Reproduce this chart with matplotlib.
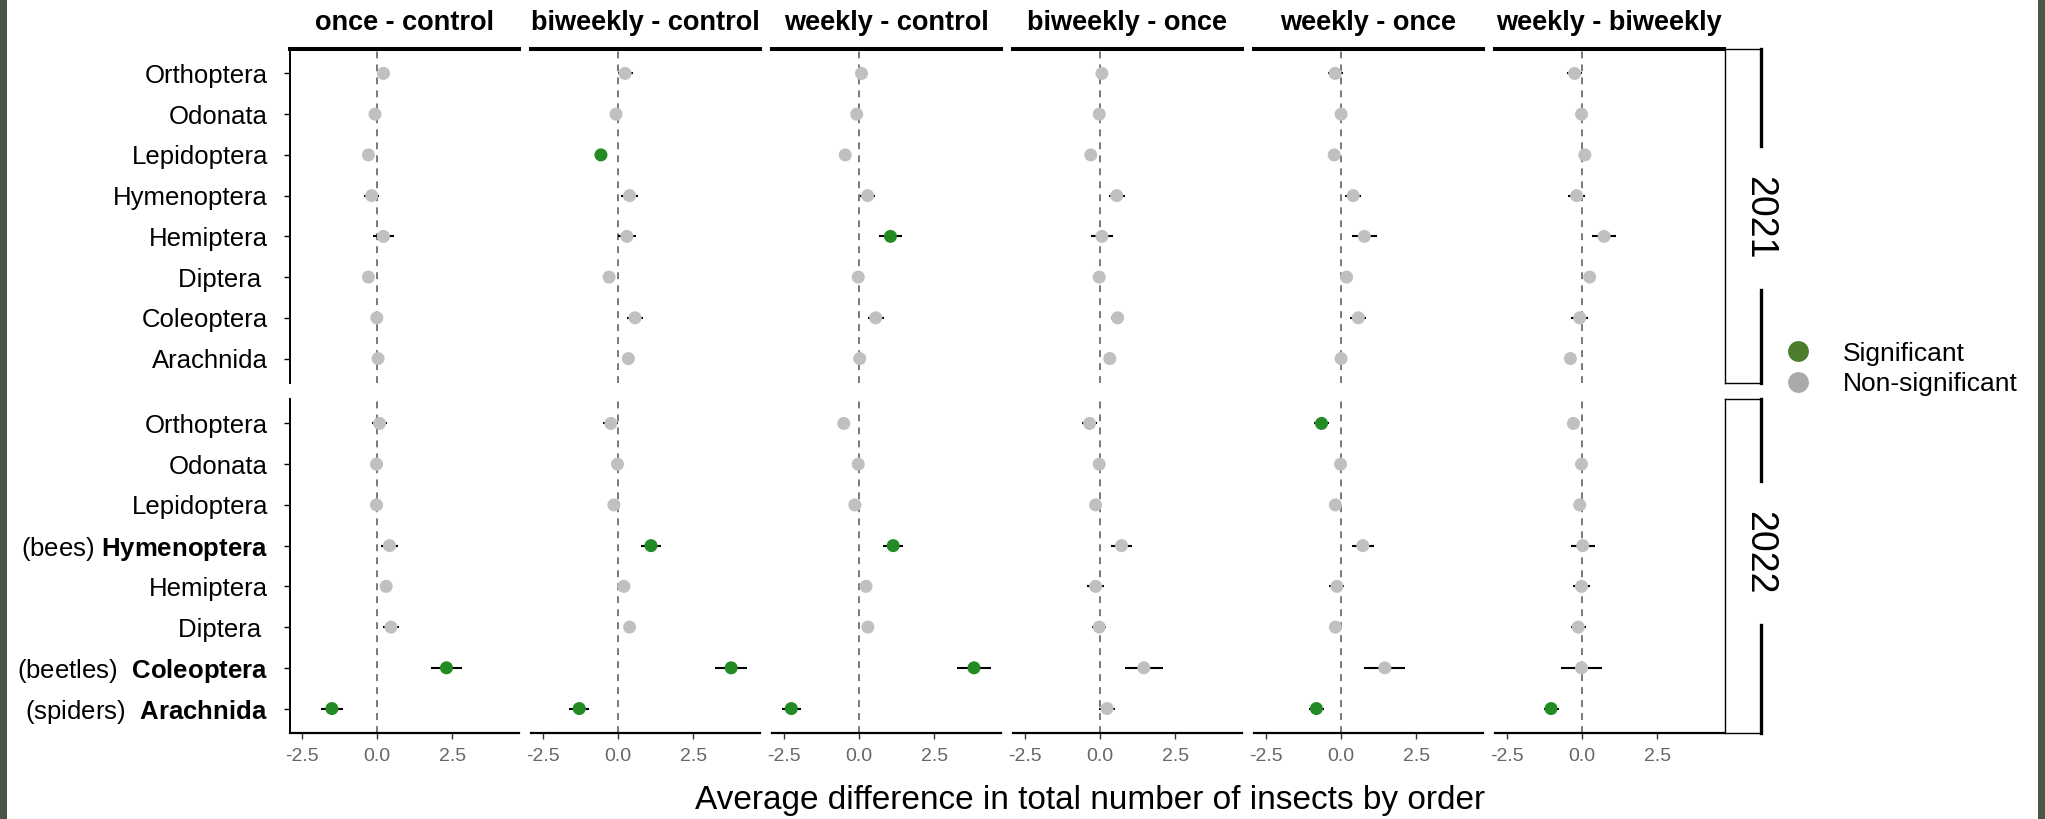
import matplotlib
matplotlib.use("Agg")
import matplotlib.pyplot as plt
from matplotlib.lines import Line2D
from matplotlib.patches import Rectangle

plt.rcParams['font.family'] = ['Liberation Sans', 'DejaVu Sans']
plt.rcParams['mathtext.fontset'] = 'custom'
plt.rcParams['mathtext.rm'] = 'Liberation Sans'
plt.rcParams['mathtext.bf'] = 'Liberation Sans:bold'
plt.rcParams['mathtext.it'] = 'Liberation Sans:italic'

# ---------------------------------------------------------------- data
orders = ["Orthoptera", "Odonata", "Lepidoptera", "Hymenoptera",
          "Hemiptera", "Diptera", "Coleoptera", "Arachnida"]
labels_2021 = ["Orthoptera", "Odonata", "Lepidoptera", "Hymenoptera",
               "Hemiptera", "Diptera ", "Coleoptera", "Arachnida"]
labels_2022 = ["Orthoptera", "Odonata", "Lepidoptera",
               r"(bees) $\mathbf{Hymenoptera}$", "Hemiptera", "Diptera ",
               r"(beetles)  $\mathbf{Coleoptera}$ ",
               r"(spiders)  $\mathbf{Arachnida}$"]
comparisons = ["once - control", "biweekly - control", "weekly - control",
               "biweekly - once", "weekly - once", "weekly - biweekly"]
years = ["2021", "2022"]

# estimated differences, one list per comparison (orders top to bottom)
est_2021 = [
    [0.21, -0.07, -0.29, -0.18, 0.21, -0.29, -0.01, 0.03],
    [0.23, -0.07, -0.57, 0.38, 0.29, -0.30, 0.56, 0.34],
    [0.08, -0.08, -0.46, 0.28, 1.04, -0.03, 0.55, 0.02],
    [0.06, -0.03, -0.31, 0.55, 0.06, -0.03, 0.58, 0.32],
    [-0.20, 0.00, -0.23, 0.40, 0.77, 0.18, 0.57, 0.00],
    [-0.25, -0.02, 0.09, -0.18, 0.73, 0.25, -0.08, -0.39],
]
ci_2021 = [
    [0.15, 0.15, 0.15, 0.25, 0.35, 0.15, 0.15, 0.15],
    [0.25, 0.15, 0.15, 0.27, 0.31, 0.15, 0.26, 0.15],
    [0.15, 0.15, 0.15, 0.24, 0.39, 0.15, 0.26, 0.15],
    [0.20, 0.15, 0.15, 0.26, 0.36, 0.15, 0.22, 0.15],
    [0.25, 0.15, 0.15, 0.26, 0.42, 0.15, 0.27, 0.15],
    [0.24, 0.15, 0.15, 0.28, 0.40, 0.15, 0.29, 0.15],
]
sig_2021 = [
    [0, 0, 0, 0, 0, 0, 0, 0],
    [0, 0, 1, 0, 0, 0, 0, 0],
    [0, 0, 0, 0, 1, 0, 0, 0],
    [0, 0, 0, 0, 0, 0, 0, 0],
    [0, 0, 0, 0, 0, 0, 0, 0],
    [0, 0, 0, 0, 0, 0, 0, 0],
]

est_2022 = [
    [0.08, -0.02, -0.02, 0.41, 0.30, 0.46, 2.30, -1.50],
    [-0.24, -0.02, -0.14, 1.09, 0.19, 0.38, 3.75, -1.29],
    [-0.51, -0.03, -0.14, 1.13, 0.23, 0.29, 3.81, -2.25],
    [-0.35, -0.03, -0.15, 0.71, -0.15, -0.03, 1.45, 0.23],
    [-0.65, -0.02, -0.19, 0.72, -0.14, -0.19, 1.45, -0.82],
    [-0.29, -0.02, -0.08, 0.02, -0.02, -0.13, -0.02, -1.03],
]
ci_2022 = [
    [0.26, 0.15, 0.15, 0.29, 0.15, 0.25, 0.52, 0.36],
    [0.25, 0.15, 0.15, 0.33, 0.15, 0.15, 0.52, 0.34],
    [0.15, 0.15, 0.15, 0.34, 0.15, 0.15, 0.57, 0.31],
    [0.25, 0.15, 0.15, 0.36, 0.27, 0.24, 0.62, 0.28],
    [0.25, 0.15, 0.15, 0.36, 0.25, 0.15, 0.68, 0.26],
    [0.15, 0.15, 0.15, 0.40, 0.27, 0.25, 0.68, 0.25],
]
sig_2022 = [
    [0, 0, 0, 0, 0, 0, 1, 1],
    [0, 0, 0, 1, 0, 0, 1, 1],
    [0, 0, 0, 1, 0, 0, 1, 1],
    [0, 0, 0, 0, 0, 0, 0, 0],
    [1, 0, 0, 0, 0, 0, 0, 1],
    [0, 0, 0, 0, 0, 0, 0, 1],
]

x_ticks = [-2.5, 0.0, 2.5]
x_tick_labels = ["-2.5", "0.0", "2.5"]

# ---------------------------------------------------------------- style
GREEN = "#238b23"
GREY = "#c0c0c0"
LEG_GREEN = "#4b7d2c"
LEG_GREY = "#aaaaaa"
EDGE = "#4b5545"

W, H = 2045, 819
fig = plt.figure(figsize=(W / 100, H / 100), dpi=100)


def fx(px):
    return px / W


def fy(py):
    return 1 - py / H


col_left = [290 + 241 * i for i in range(6)]
panel_w = 228.5
row_top = [49, 399]
row_bot = [383, 733]

all_est = [est_2021, est_2022]
all_ci = [ci_2021, ci_2022]
all_sig = [sig_2021, sig_2022]
all_labels = [labels_2021, labels_2022]

ypos = [len(orders) - i for i in range(len(orders))]

for r in range(2):
    for c in range(6):
        ax = fig.add_axes([fx(col_left[c]), fy(row_bot[r]),
                           panel_w / W, (row_bot[r] - row_top[r]) / H])
        est = all_est[r][c]
        ci = all_ci[r][c]
        sig = all_sig[r][c]
        ax.axvline(0, color="#555555", lw=1.1, ls=(0, (4.5, 4)), zorder=1)
        lo = [e - h for e, h in zip(est, ci)]
        hi = [e + h for e, h in zip(est, ci)]
        ax.hlines(ypos, lo, hi, color="black", lw=1.5, zorder=2)
        cols = [GREEN if s else GREY for s in sig]
        ax.scatter(est, ypos, s=88, c=cols, edgecolors="none", zorder=3)

        ax.set_xlim(-2.89, 4.69)
        ax.set_ylim(0.4, 8.6)
        for sp in ax.spines.values():
            sp.set_visible(False)

        if r == 0:
            ax.spines["top"].set_visible(True)
            ax.spines["top"].set_linewidth(2.9)
            fig.text(fx(col_left[c] + panel_w / 2), fy(23), comparisons[c],
                     ha="center", va="center", fontsize=19.5,
                     fontweight="bold")

        ax.set_xticks(x_ticks)
        if r == 1:
            ax.spines["bottom"].set_visible(True)
            ax.spines["bottom"].set_linewidth(1.6)
            ax.set_xticklabels(x_tick_labels)
            ax.tick_params(axis="x", length=4, width=1.0, color="#333333",
                           pad=7, labelsize=14, labelcolor="#666666")
        else:
            ax.tick_params(axis="x", length=0, labelbottom=False)

        ax.set_yticks(ypos)
        if c == 0:
            ax.spines["left"].set_visible(True)
            ax.spines["left"].set_linewidth(1.4)
            ax.set_yticklabels(all_labels[r])
            ax.tick_params(axis="y", length=4, width=1.0, pad=12,
                           labelsize=18.5, labelcolor="black")
        else:
            ax.tick_params(axis="y", length=0, labelleft=False)

# right-hand year strips
strip_l, strip_r = 1725, 1761
year_centre = [218, 553]
gap_half = 72
for r in range(2):
    t, b = row_top[r], row_bot[r]
    for xs, ys in [((strip_l, strip_l), (t, b)),
                   ((strip_l, strip_r), (t, t)),
                   ((strip_l, strip_r), (b, b))]:
        fig.add_artist(Line2D([fx(v) for v in xs], [fy(v) for v in ys],
                              transform=fig.transFigure, color="black",
                              lw=1.0))
    yc = year_centre[r]
    for y0, y1 in [(t, yc - gap_half), (yc + gap_half, b)]:
        fig.add_artist(Line2D([fx(strip_r), fx(strip_r)], [fy(y0), fy(y1)],
                              transform=fig.transFigure, color="black",
                              lw=2.4))
    fig.text(fx(strip_r - 2), fy(yc), years[r], rotation=-90, ha="center",
             va="center", fontsize=27)

# legend
handles = [Line2D([], [], ls="", marker="o", ms=15, color=LEG_GREEN,
                  markeredgewidth=0),
           Line2D([], [], ls="", marker="o", ms=15, color=LEG_GREY,
                  markeredgewidth=0)]
fig.legend(handles, ["Significant", "Non-significant"], loc="center left",
           bbox_to_anchor=(fx(1785), fy(369)), frameon=False, fontsize=19,
           handlelength=1.0, handletextpad=1.2, labelspacing=0.25,
           borderpad=0, borderaxespad=0)

fig.text(fx(1090), fy(800),
         "Average difference in total number of insects by order",
         ha="center", va="center", fontsize=24)

# dark frame on the left and right edges
fig.add_artist(Rectangle((0, 0), fx(7), 1, transform=fig.transFigure,
                         color=EDGE, lw=0))
fig.add_artist(Rectangle((fx(2038), 0), fx(7), 1, transform=fig.transFigure,
                         color=EDGE, lw=0))

fig.savefig("out.png", dpi=100)
